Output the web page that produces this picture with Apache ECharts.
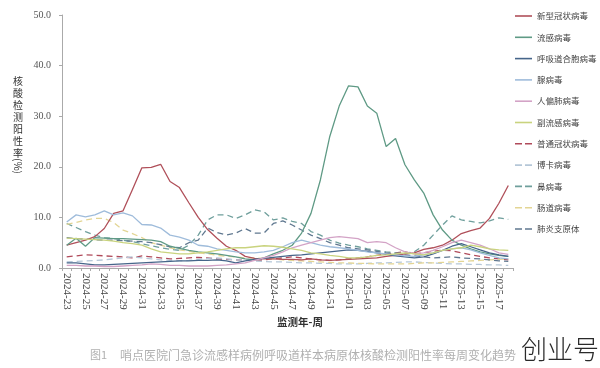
<!DOCTYPE html>
<html>
<head>
<meta charset="utf-8">
<script src="https://cdn.jsdelivr.net/npm/echarts@6/dist/echarts.min.js"></script>
<style>html,body{margin:0;padding:0;background:#fff;}#c{width:600px;height:368px;}</style>
</head>
<body>
<div id="c"></div>
<script>
const weeks = ['2024-23','2024-24','2024-25','2024-26','2024-27','2024-28','2024-29','2024-30','2024-31','2024-32','2024-33','2024-34','2024-35','2024-36','2024-37','2024-38','2024-39','2024-40','2024-41','2024-42','2024-43','2024-44','2024-45','2024-46','2024-47','2024-48','2024-49','2024-50','2024-51','2024-52','2025-01','2025-02','2025-03','2025-04','2025-05','2025-06','2025-07','2025-08','2025-09','2025-10','2025-11','2025-12','2025-13','2025-14','2025-15','2025-16','2025-17','2025-18'];
const yTicks = [0, 10, 20, 30, 40, 50];

const covid = [4.5,5.0,5.5,6.2,7.8,10.8,11.3,15.5,19.8,19.9,20.5,17.1,15.9,12.9,10.0,7.6,5.9,4.3,3.5,2.3,1.9,1.8,1.8,1.7,1.7,1.6,1.8,1.6,1.5,1.6,1.7,1.8,1.9,2.0,2.3,2.5,2.8,3.0,3.7,4.0,4.5,5.5,6.8,7.4,7.9,9.8,12.8,16.3];
const flu = [4.5,5.9,4.3,6.0,5.9,5.8,5.8,5.7,5.6,5.5,5.2,4.3,3.9,3.5,3.2,3.0,2.8,2.5,2.2,1.8,1.6,2.0,2.8,3.5,4.5,6.9,10.8,17.4,26.0,32.0,36.0,35.8,32.0,30.6,24.0,25.6,20.4,17.4,14.8,10.5,7.5,5.5,4.5,3.8,3.2,2.8,2.5,2.3];
const rsv = [1.0,1.0,0.8,0.6,0.6,0.7,0.8,0.9,1.0,1.1,1.2,1.3,1.4,1.4,1.5,1.5,1.6,1.4,1.0,1.4,1.7,1.9,2.1,2.3,2.5,2.6,2.8,3.0,3.2,3.4,3.6,3.5,3.3,3.0,2.7,2.4,2.2,2.0,2.2,2.8,3.5,4.3,4.8,4.2,3.6,3.0,2.6,2.3];
const adeno = [9.1,10.5,10.1,10.5,11.3,10.5,10.9,10.3,8.6,8.5,7.9,6.5,6.1,5.5,4.5,4.3,3.8,3.5,3.2,3.0,3.0,3.2,3.5,4.2,5.0,5.5,5.0,4.5,4.2,4.0,3.8,3.5,3.2,3.0,2.8,2.6,2.4,2.3,2.6,3.0,3.5,3.8,4.0,3.6,3.0,2.5,2.0,1.8];
const hmpv = [0.5,0.5,0.4,0.4,0.3,0.3,0.4,0.5,0.6,0.8,0.7,0.5,0.5,0.4,0.4,0.4,0.5,0.6,0.8,1.0,1.5,2.0,2.5,3.2,4.0,4.5,5.0,5.5,6.0,6.2,6.0,5.8,5.0,5.2,5.0,4.0,3.2,2.8,3.0,3.5,4.2,5.0,5.5,5.0,4.5,3.8,3.0,2.7];
const paraflu = [5.9,5.8,5.7,5.6,5.5,5.3,5.0,4.8,4.5,3.8,3.2,3.0,2.8,2.8,3.0,3.2,3.5,3.8,4.0,4.0,4.2,4.4,4.3,4.1,3.8,3.5,3.0,2.8,2.5,2.3,2.0,2.0,2.2,2.5,2.6,2.8,3.0,2.8,2.6,3.0,3.5,3.8,4.0,4.5,4.2,3.8,3.6,3.5];
const hcov = [2.2,2.4,2.6,2.5,2.4,2.3,2.2,2.0,2.4,2.2,2.0,1.8,1.9,2.0,2.1,2.0,1.8,1.7,1.6,1.5,1.5,1.6,1.8,2.0,2.2,2.0,1.8,1.6,1.5,1.6,1.8,2.0,2.2,2.5,2.8,3.0,3.2,2.8,3.0,3.3,3.5,3.4,3.0,2.6,2.3,2.0,1.8,1.6];
const boca = [1.2,1.3,1.4,1.5,1.6,1.8,2.0,2.2,2.0,1.8,1.6,1.5,1.4,1.5,1.7,1.9,2.0,1.8,1.6,1.5,1.4,1.3,1.2,1.2,1.1,1.0,1.0,0.9,0.9,0.8,0.8,0.8,0.9,1.0,1.0,1.1,1.2,1.2,1.1,1.0,0.9,0.8,0.8,0.7,0.7,0.6,0.6,0.5];
const rhino = [8.8,8.0,7.2,6.5,6.0,5.8,5.5,5.2,4.8,4.4,4.0,3.7,3.5,4.5,6.5,9.5,10.5,10.5,9.8,10.5,11.5,11.1,9.5,9.9,9.2,8.8,7.2,6.5,5.5,4.9,4.5,4.2,3.8,3.5,3.2,3.0,2.9,3.2,4.5,6.5,8.5,10.3,9.5,9.2,8.9,9.3,9.9,9.6];
const entero = [8.6,9.0,9.5,9.8,9.8,9.0,7.5,6.8,6.0,5.0,4.5,4.0,3.6,3.3,3.0,2.8,2.5,2.3,2.2,2.0,2.0,1.9,1.8,1.6,1.5,1.4,1.3,1.2,1.1,1.0,1.0,0.9,0.9,0.8,0.8,0.8,0.8,0.9,1.0,1.0,1.1,1.2,1.3,1.4,1.5,1.6,1.7,1.8];
const mycoplasma = [6.0,5.8,5.7,5.6,5.5,5.5,5.4,5.3,5.2,5.0,4.6,4.2,4.0,5.0,5.5,7.9,7.0,6.5,6.9,7.8,6.9,6.9,8.8,9.3,8.5,7.5,6.5,5.8,5.0,4.5,4.0,3.8,3.6,3.3,3.0,2.8,2.6,2.4,2.2,2.0,2.1,2.2,2.0,1.9,1.8,1.6,1.4,1.3];

const names = ['新型冠状病毒','流感病毒','呼吸道合胞病毒','腺病毒','人偏肺病毒','副流感病毒','普通冠状病毒','博卡病毒','鼻病毒','肠道病毒','肺炎支原体'];
const values = [covid, flu, rsv, adeno, hmpv, paraflu, hcov, boca, rhino, entero, mycoplasma];
const colors = ['#b0505a','#5f9a85','#46658a','#9fbcdb','#d3a3c6','#c9d37e','#b04a5a','#b5c7d8','#6f9f9c','#e3d594','#607890'];
const dashed = [false,false,false,false,false,false,true,true,true,true,true];

const chart = echarts.init(document.getElementById('c'), null, {renderer: 'canvas'});
const serif = 'Liberation Serif';
const cjk = 'Noto Sans CJK SC';

const solidIcon = 'path://M0,0h17v1.6h-17z';
const dashIcon = 'path://M0,0h7v1.6h-7z M10,0h7v1.6h-7z';

const series = names.map((n, k) => ({
  name: n,
  type: 'line',
  data: values[k],
  symbol: 'none',
  smooth: false,
  z: dashed[k] ? 2 : 3,
  lineStyle: {color: colors[k], width: 1.3, type: dashed[k] ? [6, 4] : 'solid'},
  itemStyle: {color: colors[k]}
}));

chart.setOption({
  animation: false,
  backgroundColor: '#fff',
  color: colors,
  grid: {left: 62, right: 87, top: 15, bottom: 100},
  legend: {
    orient: 'vertical', left: 510, top: 6,
    itemWidth: 17, itemHeight: 1.6, itemGap: 11.3,
    data: names.map((n, k) => ({name: n, icon: dashed[k] ? dashIcon : solidIcon})),
    textStyle: {fontSize: 8.5, color: '#444', fontFamily: cjk, lineHeight: 10}
  },
  xAxis: {
    type: 'category', data: weeks, boundaryGap: true,
    axisLine: {lineStyle: {color: '#aaa', width: 1}},
    axisTick: {show: true, interval: 0, length: 3, lineStyle: {color: '#aaa'}},
    axisLabel: {interval: 1, rotate: -90, margin: 5, fontSize: 11, color: '#444', fontFamily: serif},
    splitLine: {show: false}
  },
  yAxis: {
    type: 'value', min: yTicks[0], max: yTicks[yTicks.length - 1], interval: 10,
    axisLine: {show: true, lineStyle: {color: '#aaa', width: 1}},
    axisTick: {show: true, length: 3, lineStyle: {color: '#aaa'}},
    axisLabel: {margin: 11, fontSize: 10, color: '#555', fontFamily: serif, formatter: v => v.toFixed(1)},
    splitLine: {show: false}
  },
  graphic: [
    {type: 'text', left: 13, top: 75, style: {text: '核\n酸\n检\n测\n阳\n性\n率', font: '10px "Noto Sans CJK SC"', lineHeight: 12, fill: '#333'}},
    {type: 'text', x: 18, y: 166, rotation: -Math.PI / 2, style: {text: '(%)', font: '10px "Noto Sans CJK SC"', fill: '#333', align: 'center', verticalAlign: 'middle'}},
    {type: 'text', x: 300, y: 322, style: {text: '监测年-周', font: 'bold 10.5px "Noto Sans CJK SC"', fill: '#333', align: 'center', verticalAlign: 'middle'}},
    {type: 'text', x: 90, y: 355, style: {text: '图1', font: '11px "Noto Sans CJK SC"', fill: '#b0b0b0', verticalAlign: 'middle'}},
    {type: 'text', x: 120, y: 355, style: {text: '哨点医院门急诊流感样病例呼吸道样本病原体核酸检测阳性率每周变化趋势', font: '12px "Noto Sans CJK SC"', fill: '#b0b0b0', verticalAlign: 'middle'}},
    {type: 'text', x: 521, y: 349, style: {text: '创业号', font: '300 26px "Noto Sans CJK SC"', fill: '#2a2a2a', verticalAlign: 'middle'}}
  ],
  series: series
});
</script>
</body>
</html>
